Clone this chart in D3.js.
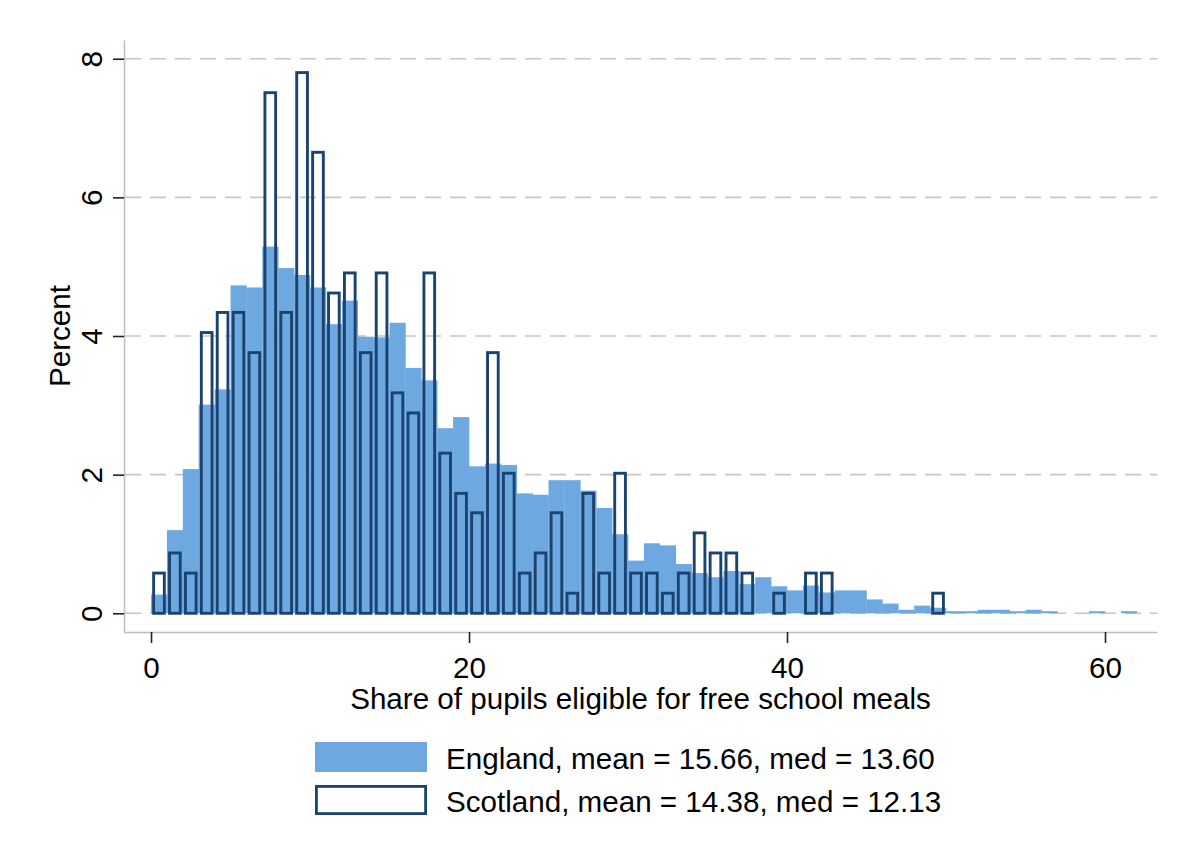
<!DOCTYPE html>
<html>
<head>
<meta charset="utf-8">
<script src="https://cdn.jsdelivr.net/npm/d3@7"></script>
<style>
  html, body { margin: 0; padding: 0; background: #ffffff; }
  svg { display: block; font-family: "Liberation Sans", Arial, sans-serif; }
</style>
</head>
<body>
<svg id="chart" width="1178" height="841"></svg>
<script>
// Histogram bins: each bar covers [start, start + 1) percent of pupils eligible
const binStarts = d3.range(0, 62);

// England: percent of schools in each bin (bins 0..61)
const englandPct = [
  0.27, 1.20, 2.08, 3.01, 3.23, 4.73, 4.70, 5.29, 4.98, 4.88,
  4.70, 4.17, 4.51, 3.99, 3.98, 4.19, 3.54, 3.36, 2.67, 2.83,
  2.12, 2.16, 2.14, 1.73, 1.71, 1.92, 1.92, 1.77, 1.52, 1.14,
  0.76, 1.01, 0.98, 0.71, 0.58, 0.52, 0.61, 0.42, 0.52, 0.39,
  0.33, 0.40, 0.30, 0.33, 0.33, 0.20, 0.14, 0.05, 0.11, 0.08,
  0.03, 0.03, 0.05, 0.05, 0.03, 0.05, 0.03, 0.00, 0.00, 0.03,
  0.00, 0.03
];

// Scotland: percent of schools in each bin (bins 0..49)
const scotlandPct = [
  0.58, 0.87, 0.58, 4.05, 4.34, 4.34, 3.76, 7.51, 4.34, 7.80,
  6.65, 4.62, 4.91, 3.76, 4.91, 3.18, 2.89, 4.91, 2.31, 1.73,
  1.45, 3.76, 2.02, 0.58, 0.87, 1.45, 0.29, 1.73, 0.58, 2.02,
  0.58, 0.58, 0.29, 0.58, 1.16, 0.87, 0.87, 0.58, 0.00, 0.29,
  0.00, 0.58, 0.58, 0.00, 0.00, 0.00, 0.00, 0.00, 0.00, 0.29
];

const binWidth = 1;
const xTicks = [0, 20, 40, 60];
const yTicks = [0, 2, 4, 6, 8];
const xTitle = "Share of pupils eligible for free school meals";
const yTitle = "Percent";
const legendLabels = [
  "England, mean = 15.66, med = 13.60",
  "Scotland, mean = 14.38, med = 12.13"
];

const colors = {
  england: "#6ea8e1",
  scotland: "#1a4370",
  grid: "#c6c6c6",
  axis: "#bdbdbd",
  tick: "#222222",
  text: "#000000"
};

const fontSize = 29.6;
const plot = { left: 124, right: 1157, top: 40, bottom: 632 };

const svg = d3.select("#chart");

const x = d3.scaleLinear().domain([-1.70, 63.27]).range([plot.left, plot.right]);
const y = d3.scaleLinear().domain([-0.27, 8.27]).range([plot.bottom, plot.top]);

// Dashed horizontal gridlines
svg.append("g")
  .selectAll("line")
  .data(yTicks)
  .join("line")
  .attr("x1", plot.left + 1)
  .attr("x2", plot.right)
  .attr("y1", d => y(d))
  .attr("y2", d => y(d))
  .attr("stroke", colors.grid)
  .attr("stroke-width", 1.6)
  .attr("stroke-dasharray", "16 9");

// England bars (filled)
const englandData = binStarts.map((s, i) => ({ start: s, value: englandPct[i] }))
  .filter(d => d.value > 0);

svg.append("g")
  .selectAll("rect")
  .data(englandData)
  .join("rect")
  .attr("x", d => x(d.start))
  .attr("width", d => x(d.start + binWidth) - x(d.start) + 0.3)
  .attr("y", d => y(d.value))
  .attr("height", d => y(0) - y(d.value))
  .attr("fill", colors.england);

// Scotland bars (outlined, no fill)
const scotInset = 2.6;
const scotlandData = scotlandPct.map((v, i) => ({ start: binStarts[i], value: v }))
  .filter(d => d.value > 0);

svg.append("g")
  .selectAll("rect")
  .data(scotlandData)
  .join("rect")
  .attr("x", d => x(d.start) + scotInset)
  .attr("width", d => x(d.start + binWidth) - x(d.start) - 2 * scotInset)
  .attr("y", d => y(d.value))
  .attr("height", d => y(0) - y(d.value))
  .attr("fill", "none")
  .attr("stroke", colors.scotland)
  .attr("stroke-width", 2.9);

// Axes
const xAxis = d3.axisBottom(x)
  .tickValues(xTicks)
  .tickFormat(d3.format("d"))
  .tickSize(11)
  .tickSizeOuter(0)
  .tickPadding(14);

const gx = svg.append("g")
  .attr("transform", `translate(0,${plot.bottom})`)
  .call(xAxis);

const yAxis = d3.axisLeft(y)
  .tickValues(yTicks)
  .tickFormat(d3.format("d"))
  .tickSize(11)
  .tickSizeOuter(0);

const gy = svg.append("g")
  .attr("transform", `translate(${plot.left},0)`)
  .call(yAxis);

[gx, gy].forEach(g => {
  g.select(".domain").attr("stroke", colors.axis).attr("stroke-width", 1.5);
  g.selectAll(".tick line").attr("stroke", colors.tick).attr("stroke-width", 1.6);
  g.selectAll(".tick text")
    .attr("fill", colors.text)
    .style("font-size", fontSize + "px")
    .style("font-family", "'Liberation Sans', Arial, sans-serif");
});

// Rotated y tick labels, reading bottom to top
gy.selectAll(".tick text")
  .attr("transform", "rotate(-90)")
  .attr("x", 0)
  .attr("y", -22)
  .attr("dy", 0)
  .attr("text-anchor", "middle");

// Axis titles
svg.append("text")
  .attr("x", (plot.left + plot.right) / 2)
  .attr("y", 709)
  .attr("text-anchor", "middle")
  .attr("fill", colors.text)
  .style("font-size", fontSize + "px")
  .text(xTitle);

svg.append("text")
  .attr("transform", `translate(70,${(plot.top + plot.bottom) / 2}) rotate(-90)`)
  .attr("text-anchor", "middle")
  .attr("fill", colors.text)
  .style("font-size", fontSize + "px")
  .text(yTitle);

// Legend
const legend = svg.append("g");
const legendItems = [
  { label: legendLabels[0], fill: colors.england, stroke: "none", top: 742 },
  { label: legendLabels[1], fill: "#ffffff", stroke: colors.scotland, top: 785 }
];

legendItems.forEach(item => {
  legend.append("rect")
    .attr("x", item.stroke === "none" ? 315 : 316.4)
    .attr("y", item.stroke === "none" ? item.top : item.top + 1.4)
    .attr("width", item.stroke === "none" ? 112 : 109.2)
    .attr("height", item.stroke === "none" ? 30 : 27.2)
    .attr("fill", item.fill)
    .attr("stroke", item.stroke)
    .attr("stroke-width", 2.8);
  legend.append("text")
    .attr("x", 446)
    .attr("y", item.top + 27)
    .attr("fill", colors.text)
    .style("font-size", fontSize + "px")
    .text(item.label);
});
</script>
</body>
</html>
